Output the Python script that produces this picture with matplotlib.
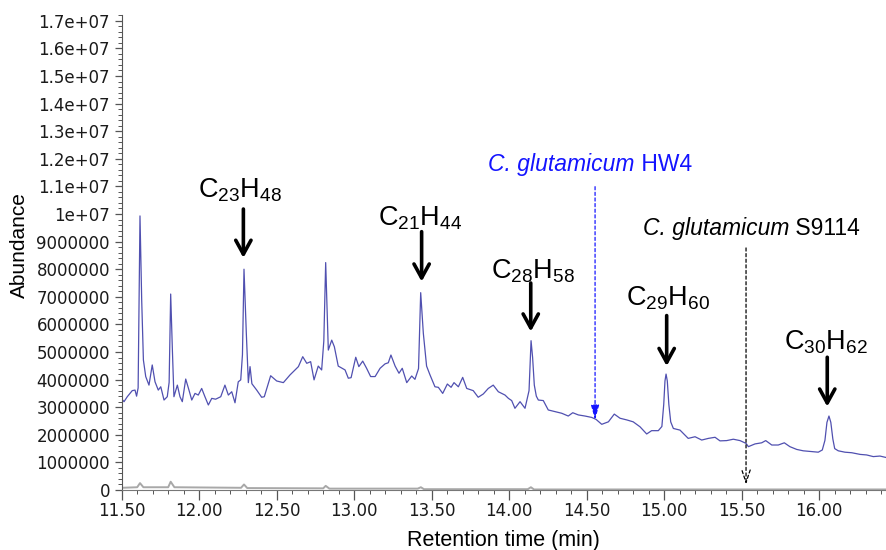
import matplotlib
matplotlib.use("Agg")
import matplotlib.pyplot as plt
from matplotlib.ticker import MultipleLocator, FuncFormatter

plt.rcParams["font.family"] = ["Liberation Sans", "DejaVu Sans"]
plt.rcParams["mathtext.fontset"] = "custom"
plt.rcParams["mathtext.rm"] = "Liberation Sans"
plt.rcParams["mathtext.it"] = "Liberation Sans:italic"

# chromatogram trace (time in min, abundance in millions)
trace_t = [11.50, 11.515, 11.536, 11.568, 11.586, 11.596, 11.606, 11.618, 11.629, 11.64,
           11.655, 11.676, 11.697, 11.715, 11.736, 11.752, 11.773, 11.794, 11.806, 11.816,
           11.827, 11.837, 11.859, 11.876, 11.891, 11.913, 11.934, 11.952, 11.973, 11.994,
           12.016, 12.037, 12.059, 12.081, 12.106, 12.139, 12.166, 12.188, 12.21, 12.231,
           12.252, 12.268, 12.279, 12.289, 12.304, 12.317, 12.328, 12.34, 12.371, 12.403,
           12.42, 12.461, 12.50, 12.543, 12.586, 12.618, 12.64, 12.668, 12.694, 12.719,
           12.741, 12.768, 12.79, 12.804, 12.816, 12.833, 12.855, 12.872, 12.897, 12.941,
           12.962, 12.98, 13.01, 13.03, 13.055, 13.08, 13.106, 13.135, 13.167, 13.199,
           13.22, 13.237, 13.264, 13.289, 13.31, 13.339, 13.371, 13.392, 13.415, 13.429,
           13.446, 13.467, 13.489, 13.521, 13.543, 13.571, 13.601, 13.625, 13.644, 13.672,
           13.70, 13.726, 13.768, 13.80, 13.833, 13.865, 13.897, 13.93, 13.973, 13.995,
           14.016, 14.037, 14.07, 14.102, 14.128, 14.141, 14.151, 14.162, 14.175, 14.188,
           14.22, 14.252, 14.295, 14.339, 14.381, 14.41, 14.446, 14.489, 14.532, 14.56,
           14.597, 14.64, 14.678, 14.715, 14.758, 14.80, 14.844, 14.887, 14.919, 14.962,
           14.985, 14.997, 15.005, 15.012, 15.02, 15.03, 15.042, 15.059, 15.102, 15.134,
           15.155, 15.199, 15.242, 15.285, 15.328, 15.36, 15.403, 15.446, 15.489, 15.528,
           15.543, 15.586, 15.629, 15.655, 15.694, 15.736, 15.775, 15.811, 15.855, 15.897,
           15.952, 15.994, 16.02, 16.037, 16.05, 16.063, 16.075, 16.088, 16.100, 16.123,
           16.166, 16.21, 16.264, 16.306, 16.349, 16.392, 16.43]
trace_v = [3.30, 3.20, 3.38, 3.60, 3.62, 3.40, 3.70, 9.93, 6.88, 4.71,
           4.11, 3.80, 4.53, 3.92, 3.62, 3.74, 3.26, 3.38, 3.90, 7.10,
           5.07, 3.38, 3.80, 3.38, 3.20, 4.02, 3.62, 3.26, 3.50, 3.44,
           3.68, 3.38, 3.08, 3.32, 3.29, 3.38, 3.80, 3.44, 3.56, 3.16,
           3.92, 3.99, 4.90, 8.00, 5.68, 3.89, 4.47, 3.85, 3.62, 3.36,
           3.38, 4.14, 3.95, 3.89, 4.17, 4.35, 4.47, 4.83, 4.59, 4.65,
           3.99, 4.49, 4.35, 5.40, 8.24, 5.07, 5.43, 5.19, 4.49, 4.35,
           4.05, 4.07, 4.81, 4.47, 4.67, 4.41, 4.11, 4.11, 4.41, 4.57,
           4.61, 4.89, 4.49, 4.23, 4.41, 3.89, 4.13, 4.01, 4.40, 7.15,
           5.68, 4.49, 4.17, 3.74, 3.72, 3.50, 3.84, 3.72, 3.89, 3.74,
           4.08, 3.68, 3.60, 3.36, 3.48, 3.68, 3.80, 3.56, 3.44, 3.32,
           3.24, 2.96, 3.20, 2.96, 3.60, 5.41, 4.80, 3.80, 3.40, 3.26,
           3.24, 2.90, 2.84, 2.78, 2.68, 2.80, 2.72, 2.68, 2.63, 2.56,
           2.38, 2.47, 2.75, 2.60, 2.54, 2.47, 2.29, 2.03, 2.15, 2.15,
           2.30, 3.10, 3.95, 4.20, 3.95, 3.10, 2.47, 2.23, 2.17, 1.99,
           1.87, 1.93, 1.81, 1.87, 1.91, 1.78, 1.79, 1.84, 1.79, 1.69,
           1.57, 1.67, 1.71, 1.79, 1.63, 1.63, 1.71, 1.57, 1.47, 1.42,
           1.39, 1.37, 1.45, 1.80, 2.45, 2.68, 2.45, 1.85, 1.50, 1.42,
           1.37, 1.35, 1.29, 1.27, 1.21, 1.23, 1.18]

# faint grey trace near zero
base_t = [11.50, 11.60, 11.618, 11.64, 11.80, 11.816, 11.84, 12.27, 12.289, 12.31,
          12.80, 12.816, 12.84, 13.41, 13.43, 13.45, 14.12, 14.14, 14.16, 15.00, 16.43]
base_v = [0.08, 0.10, 0.25, 0.10, 0.10, 0.30, 0.10, 0.08, 0.20, 0.07,
          0.06, 0.15, 0.05, 0.05, 0.10, 0.03, 0.03, 0.10, 0.02, 0.02, 0.02]

# peak labels: text position, arrow top, arrow tip (millions)
peak_labels = [r"C$_{23}$H$_{48}$", r"C$_{21}$H$_{44}$", r"C$_{28}$H$_{58}$",
               r"C$_{29}$H$_{60}$", r"C$_{30}$H$_{62}$"]
peak_t = [12.285, 13.435, 14.139, 15.016, 16.052]
label_t = [12.264, 13.425, 14.154, 15.027, 16.044]
label_v = [10.87, 9.86, 7.91, 6.95, 5.34]
arrow_top = [10.18, 9.36, 7.50, 6.32, 4.81]
arrow_tip = [8.41, 7.55, 5.74, 4.49, 3.02]

# strain markers
strain_names = ["C. glutamicum", "C. glutamicum"]
strain_ids = [" HW4", " S9114"]
strain_colors = ["#1414ff", "black"]
strain_t = [14.554, 15.528]
strain_text_t = [13.866, 14.862]
strain_text_v = [11.81, 9.49]
strain_top = [10.99, 8.77]
strain_tip = [2.54, 0.20]

M = 1e6
fig = plt.figure(figsize=(8.86, 5.5), dpi=100)
ax = fig.add_axes([121.7 / 886, 60 / 550, 764.3 / 886, 17.2 * 27.6 / 550])

ax.plot(base_t, [v * M for v in base_v], color="#a8a8a8", lw=1.4)
ax.plot(trace_t, [v * M for v in trace_v], color="#5050b0", lw=0.9)

for lab, pt, lt, lv, top, tip in zip(peak_labels, peak_t, label_t, label_v, arrow_top, arrow_tip):
    ax.text(lt, lv * M, lab, ha="center", va="center", fontsize=19.5)
    ax.annotate("", xy=(pt, tip * M), xytext=(pt, top * M),
                arrowprops=dict(arrowstyle="->,head_length=1.0,head_width=0.55",
                                lw=2.6, color="black", shrinkA=0, shrinkB=0))

for name, sid, c, st, tt, tv, top, tip in zip(strain_names, strain_ids, strain_colors, strain_t,
                                              strain_text_t, strain_text_v, strain_top, strain_tip):
    t1 = ax.text(tt, tv * M, name, ha="left", va="center", fontsize=16.5, color=c, style="italic")
    ax.annotate(sid, xy=(1, 0.5), xycoords=t1, ha="left", va="center", fontsize=16.5, color=c)
    style = ("-|>,head_length=0.9,head_width=0.25" if c != "black"
             else "->,head_length=0.9,head_width=0.3")
    ax.annotate("", xy=(st, tip * M), xytext=(st, top * M),
                arrowprops=dict(arrowstyle=style, lw=0.9, color=c, ls=(0, (2.5, 2)),
                                shrinkA=0, shrinkB=0))

ax.set_xlim(11.5, 16.431)
ax.set_ylim(0, 1.72e7)
ax.xaxis.set_major_locator(MultipleLocator(0.5))
ax.xaxis.set_minor_locator(MultipleLocator(0.1))
ax.yaxis.set_major_locator(MultipleLocator(1e6))
ax.yaxis.set_minor_locator(MultipleLocator(2e5))
ax.xaxis.set_major_formatter(FuncFormatter(lambda v, p: f"{v:.2f}"))
ax.yaxis.set_major_formatter(FuncFormatter(lambda v, p: f"{int(round(v))}" if v < 1e7 else f"{v:g}"))

for s in ["top", "right"]:
    ax.spines[s].set_visible(False)
ax.spines["left"].set_color("#555555")
ax.spines["bottom"].set_color("#777777")
ax.tick_params(axis="both", which="major", labelsize=12, color="#555555", length=5, width=0.9)
ax.tick_params(axis="both", which="minor", color="#555555", length=3, width=0.7)
ax.tick_params(axis="x", which="major", length=7, pad=2)
for lab in ax.get_xticklabels() + ax.get_yticklabels():
    lab.set_family("DejaVu Sans")
    lab.set_color("#1a1a1a")

ax.set_xlabel("Retention time (min)", fontsize=15.5, labelpad=7)
ax.set_ylabel("Abundance", fontsize=15)
ax.yaxis.set_label_coords(-0.122, 0.517)

fig.savefig("out.png", dpi=100)
